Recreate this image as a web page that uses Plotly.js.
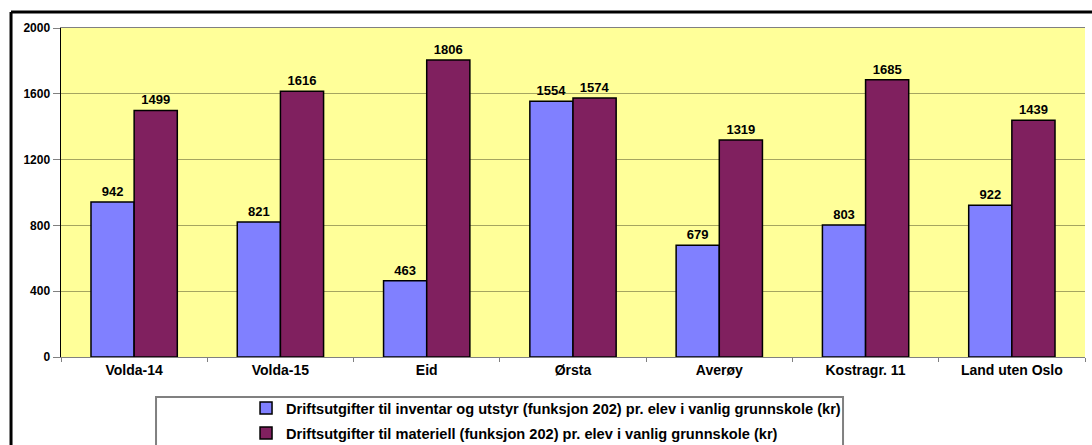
<!DOCTYPE html>
<html>
<head>
<meta charset="utf-8">
<script src="https://cdn.plot.ly/plotly-3.0.1.min.js"></script>
<style>
  html, body { margin: 0; padding: 0; background: #fff; }
  #chart { width: 1092px; height: 445px; }
</style>
</head>
<body>
<div id="chart"></div>
<script>
// categories and values
var places = ["Volda-14", "Volda-15", "Eid", "Ørsta", "Averøy", "Kostragr. 11", "Land uten Oslo"];
var inventar = [942, 821, 463, 1554, 679, 803, 922];
var materiell = [1499, 1616, 1806, 1574, 1319, 1685, 1439];
var yTicks = [0, 400, 800, 1200, 1600, 2000];

var barFont = { family: "Liberation Sans, Arial, sans-serif", size: 13, color: "#000" };

var trace1 = {
  x: places,
  y: inventar,
  type: "bar",
  name: "<b>Driftsutgifter til inventar og utstyr (funksjon 202) pr. elev i vanlig grunnskole (kr)</b>",
  text: inventar.map(function (v) { return "<b>" + v + "</b>"; }),
  textposition: "outside",
  textfont: barFont,
  cliponaxis: false,
  legend: "legend",
  marker: { color: "#8080FF", line: { color: "#000", width: 1.5 } }
};

var trace2 = {
  x: places,
  y: materiell,
  type: "bar",
  name: "<b>Driftsutgifter til materiell (funksjon 202) pr. elev i vanlig grunnskole (kr)</b>",
  text: materiell.map(function (v) { return "<b>" + v + "</b>"; }),
  textposition: "outside",
  textfont: barFont,
  cliponaxis: false,
  legend: "legend2",
  marker: { color: "#80205F", line: { color: "#000", width: 1.5 } }
};

var data = [trace1, trace2];

// each series gets its own legend so the two rows sit where they do in the original
var legendBase = {
  x: 0.1807,
  xanchor: "left",
  yanchor: "middle",
  bgcolor: "rgba(0,0,0,0)",
  font: { size: 14.6, color: "#000" }
};

var layout = {
  width: 1092,
  height: 445,
  margin: { l: 61, r: 7, t: 28, b: 88, autoexpand: false },
  paper_bgcolor: "#fff",
  plot_bgcolor: "#FFFF99",
  barmode: "group",
  bargap: 0.41,
  bargroupgap: 0,
  font: { family: "Liberation Sans, Arial, sans-serif", color: "#000" },
  xaxis: {
    type: "category",
    tickfont: { size: 14, color: "#000" },
    showline: true,
    linecolor: "#808080",
    linewidth: 1,
    mirror: true,
    ticks: "outside",
    tickson: "boundaries",
    ticklen: 4,
    tickcolor: "#808080",
    showgrid: false,
    tickprefix: "<b>",
    ticksuffix: "</b>"
  },
  yaxis: {
    range: [0, 2000],
    tickvals: yTicks,
    ticktext: yTicks.map(function (v) { return "<b>" + v + "</b>"; }),
    tickfont: { size: 12, color: "#000" },
    showline: true,
    linecolor: "#000",
    linewidth: 1.5,
    ticks: "outside",
    ticklen: 7,
    tickcolor: "#808080",
    showgrid: true,
    gridcolor: "#A5A560",
    gridwidth: 1,
    zeroline: false
  },
  showlegend: true,
  legend: Object.assign({}, legendBase, { y: (357 - 408) / 329 }),
  legend2: Object.assign({}, legendBase, { y: (357 - 433) / 329 }),
  shapes: [
    // legend box
    { type: "rect", xref: "paper", yref: "paper", x0: 0.0928, x1: 0.7637, y0: -0.3, y1: -0.1216,
      line: { color: "#808080", width: 2 }, fillcolor: "#fff", layer: "below" },
    // outer frame (left and top edges)
    { type: "line", xref: "paper", yref: "paper", x0: -0.0488, x1: -0.0488, y0: -0.4, y1: 1.0486,
      line: { color: "#000", width: 3 } },
    { type: "line", xref: "paper", yref: "paper", x0: -0.0488, x1: 1.05, y0: 1.0486, y1: 1.0486,
      line: { color: "#000", width: 3 } }
  ]
};

Plotly.newPlot("chart", data, layout, { displayModeBar: false, staticPlot: true });
</script>
</body>
</html>
